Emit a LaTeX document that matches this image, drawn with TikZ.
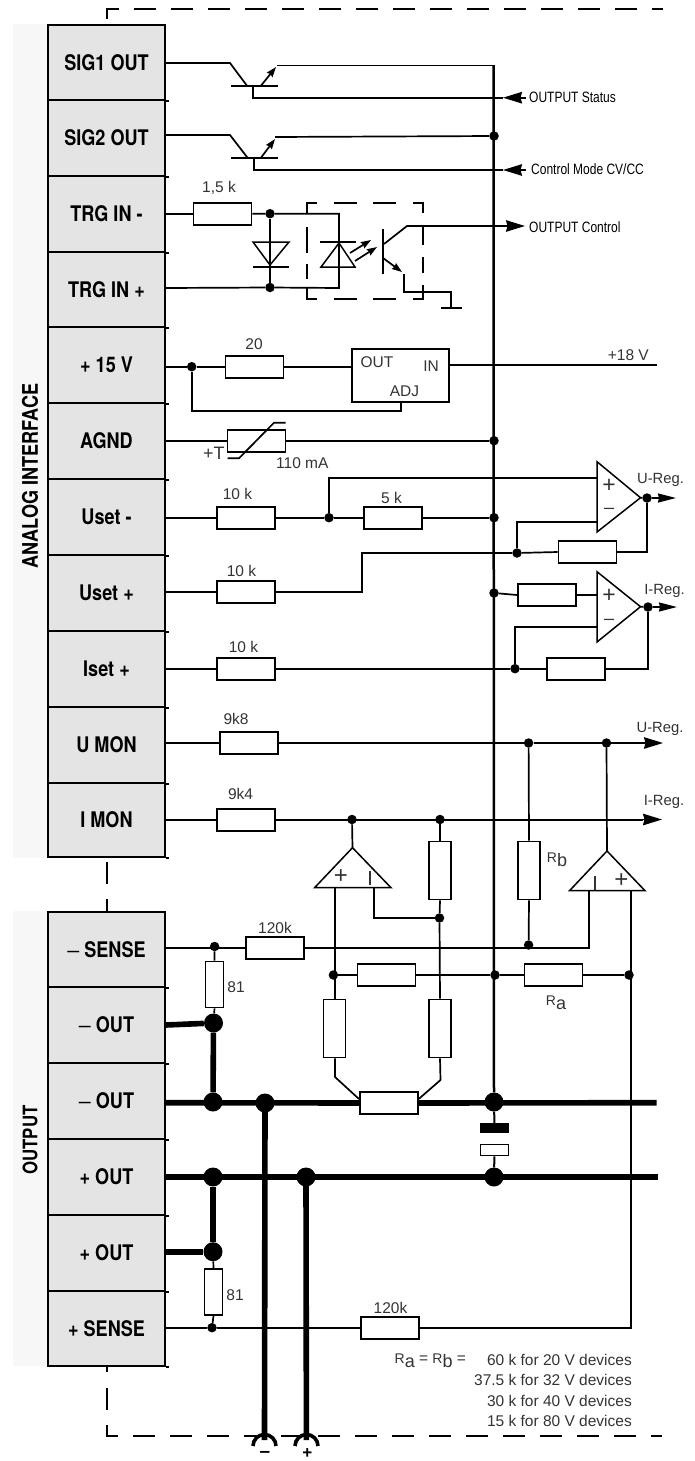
\documentclass[tikz,border=0pt]{standalone}
\usepackage{fontspec}
\setmainfont{Liberation Sans}
\newfontfamily\condb[FakeStretch=0.84]{TeX Gyre Heros Bold}
\newfontfamily\condr[FakeStretch=0.80]{Liberation Sans}
\newfontfamily\plainf{Liberation Sans}
\usetikzlibrary{arrows.meta,calc}
\definecolor{lbl}{HTML}{333333}
\newcommand{\subR}[1]{{\fontsize{14}{14}\selectfont R}\raisebox{-3.5pt}{\fontsize{18}{18}\selectfont #1}}
\newcommand{\thind}{{\plainf –}}
\tikzset{
 wire/.style={line width=1.7pt,black,line join=miter},
 bus/.style={line width=2.5pt,black},
 thick wire/.style={line width=5.6pt,black},
 dot/.style={circle,fill=black,inner sep=0pt,minimum size=9.5pt},
 bigdot/.style={circle,fill=black,inner sep=0pt,minimum size=19pt},
 resh/.style={draw=black,line width=1.7pt,fill=white,inner sep=0pt,minimum width=58pt,minimum height=22pt},
 resv/.style={draw=black,line width=1.7pt,fill=white,inner sep=0pt,minimum width=22pt,minimum height=58pt},
 ress/.style={draw=black,line width=1.7pt,fill=white,inner sep=0pt,minimum width=18pt,minimum height=46pt},
 pin/.style={draw=black,line width=1.8pt,fill=pinfill,inner sep=0pt,minimum width=117pt,font=\condb\fontsize{21.5}{21.5}\selectfont},
 txt/.style={inner sep=0pt,text=lbl,font=\fontsize{15.5}{16}\selectfont},
 small/.style={inner sep=0pt,text=black,font=\condr\fontsize{15}{15}\selectfont},
 reg lab/.style={inner sep=0pt,text=lbl,font=\fontsize{14.8}{15}\selectfont},
 side/.style={inner sep=0pt,rotate=90,font=\condb\fontsize{21.5}{21.5}\selectfont},
 bigarrow/.style={wire,-{Stealth[length=19pt,width=11.5pt,inset=1.5pt]}},
 tinyarrow/.style={wire,-{Stealth[length=10pt,width=7pt,inset=1pt]}},
 dashline/.style={line width=1.7pt,black,dash pattern=on 21.5pt off 15.5pt},
 amp/.style={line width=1.5pt,black,line join=miter},
}
\definecolor{pinfill}{HTML}{E4E4E4}
\definecolor{bandfill}{HTML}{F7F7F7}
\begin{document}
\begin{tikzpicture}[x=1pt,y=-1pt]
\useasboundingbox (0,0) rectangle (694,1461);
\fill[bandfill] (13,24) rectangle (48,858);
\fill[bandfill] (13,911) rectangle (48,1366);
% outer dashed frame
\coordinate (fTL) at (107,9);
\draw[dashline] (107,19) -- (fTL) -- (662.5,9);
\draw[dashline] (107,862) -- (107,912);
\draw[line width=1.7pt] (107,1366) -- (107,1372);
\coordinate (fBL) at (107,1436);
\draw[dashline] (107,1388) -- (fBL) -- (662,1436);
% pin strip
\foreach \n/\y/\h/\t in {
 sig1/62.5/75/SIG1 OUT, sig2/138/76/SIG2 OUT, trgm/214/76/TRG IN -, trgp/289.5/75/TRG IN +,
 vfif/365/76/+ 15 V, agnd/441/76/AGND, usm/517/76/Uset -, usp/593/76/Uset +,
 isp/669/76/Iset +, umon/745/76/U MON, imon/820/74/I MON,
 sense m/949.5/75/{\thind{} SENSE}, outm a/1025/76/{\thind{} OUT}, outm b/1101/76/{\thind{} OUT},
 outp a/1177/76/+ OUT, outp b/1253/76/+ OUT, sense p/1328.5/75/+ SENSE}
 {\node[pin,minimum height=\h pt] (\n) at (106.5,\y) {\t};
  \draw[wire] (\n.south east) -- ++(3,0);}
\node[side] (ai) at (30,476) {ANALOG INTERFACE};
\node[side,font=\condb\fontsize{20}{20}\selectfont] (ou) at (30,1140) {OUTPUT};
% pin contact points
\foreach \n/\p/\y in {pS1/sig1/63,pS2/sig2/135,pTm/trgm/213.7,pTp/trgp/288,pV/vfif/366.7,pA/agnd/440.7,
  pUm/usm/517.7,pUp/usp/592,pIs/isp/668.7,pUm2/umon/743,pIm/imon/820,pSm/sense m/947.7,
  pOa/outm a/1025,pOb/outm b/1102.7,pOc/outp a/1176.7,pOd/outp b/1251.7,pSp/sense p/1327.7}
 {\coordinate (\n) at (\p.east |- 0,\y);}
% resistors
\node[resh,minimum width=58pt] (r15) at (222.5,213.7) {};
\node[resh] (r20) at (254.5,366.7) {};
\node[resh] (rth) at (256.5,440.7) {};
\node[resh] (r10a) at (246,517.7) {};
\node[resh] (r5) at (393,517.7) {};
\node[resh] (r10b) at (246,592) {};
\node[resh] (r10c) at (246,668.7) {};
\node[resh] (r98) at (249,743) {};
\node[resh] (r94) at (246,820) {};
\node[resh] (rfu) at (587.5,552) {};
\node[resh] (rii) at (547,595) {};
\node[resh] (rfi) at (576,668.7) {};
\node[resh] (r120a) at (275,947.7) {};
\node[resh] (rm) at (386.5,975) {};
\node[resh] (ra) at (553.5,975) {};
\node[resh] (rc) at (389,1103) {};
\node[resh] (r120b) at (390,1327.7) {};
\node[resv] (rt) at (440,870.5) {};
\node[resv] (rb) at (529,870.5) {};
\node[resv] (rl) at (334.5,1028.5) {};
\node[resv] (rr) at (440,1028.5) {};
\node[ress] (r81a) at (214.5,984.5) {};
\node[ress] (r81b) at (213.5,1292) {};
% regulator
\node[draw=black,line width=1.7pt,inner sep=0pt,minimum width=97pt,minimum height=53pt] (reg) at (400.5,375.5) {};
% junction dots
\node[dot] (dT1) at (270,213.7) {};
\node[dot] (dT2) at (270,287.5) {};
\node[dot] (dV) at (191.7,366.7) {};
\node[dot] (dA) at (494,440.7) {};
\node[dot] (dUa) at (329,517.7) {};
\node[dot] (dUb) at (494,517.7) {};
\node[dot] (dS2) at (494,136) {};
\node[dot] (dFu) at (517,553) {};
\node[dot] (dOu) at (647,498) {};
\node[dot] (dIb) at (494,593) {};
\node[dot] (dFi) at (515,668.7) {};
\node[dot] (dOi) at (648,607) {};
\node[dot] (dM1) at (528.6,743) {};
\node[dot] (dM2) at (606.5,743) {};
\node[dot] (dI1) at (352,819.5) {};
\node[dot] (dI2) at (440,819.5) {};
\node[dot] (dN) at (439.5,918) {};
\node[dot] (dSm) at (214.6,946.5) {};
\node[dot] (dSb) at (528.6,945) {};
\node[dot] (dRl) at (333.4,975) {};
\node[dot] (dRm) at (495,975) {};
\node[dot] (dRr) at (629,975) {};
\node[dot] (dSp) at (212,1327.7) {};
\node[bigdot] (bA) at (213.5,1023) {};
\node[bigdot] (bB) at (213,1102) {};
\node[bigdot] (bC) at (265,1103) {};
\node[bigdot] (bD) at (494,1102) {};
\node[bigdot] (bE) at (213,1177) {};
\node[bigdot] (bF) at (306,1177) {};
\node[bigdot] (bG) at (494,1177) {};
\node[bigdot] (bH) at (213,1251.7) {};
% opamp corners
\coordinate (aT) at (597,461.7); \coordinate (aB) at (597,532); \coordinate (aO) at (640.5,497.7);
\coordinate (iT) at (597,571.7); \coordinate (iB) at (597,642); \coordinate (iO) at (640.5,606.7);
\coordinate (lA) at (352.5,847.7); \coordinate (lL) at (314.6,887.7); \coordinate (lR) at (391,887.7);
\coordinate (mA) at (607,851); \coordinate (mL) at (569.5,890.7); \coordinate (mR) at (645,890.7);
% arrow ends
\coordinate (aStat) at (503,97.7); \coordinate (aMode) at (503,170);
\coordinate (aCtl) at (525,226); \coordinate (aU) at (676,498); \coordinate (aI) at (677,607);
\coordinate (aUm) at (663,743); \coordinate (aIm) at (662,819.5);
\coordinate (eVin) at (656.6,365); \coordinate (eT1) at (656.6,1102.7); \coordinate (eT2) at (658,1176.7);
\coordinate (tm) at (264.5,1440); \coordinate (tp) at (306.4,1440);
% bus
\draw[bus] (493.5,65.5) -- (bD);
% transistor 1
\draw[wire] (pS1) -- (230,63) -- (247,85.7);
\draw[wire] (231,85.7) -- (278,85.7);
\draw[tinyarrow] (261,85.7) -- (276,67);
\draw[wire] (253,85.7) |- (aStat);
\draw[wire] (277,65.5) -- (494.7,65.5);
\draw[bigarrow] (526,97.7) -- (aStat);
% transistor 2
\draw[wire] (pS2) -- (230,135) -- (247.5,157.7);
\draw[wire] (231,157.7) -- (278,157.7);
\draw[tinyarrow] (261,157.7) -- (275,139);
\draw[wire] (254,157.7) |- (aMode);
\draw[wire] (275,137) -- (dS2);
\draw[bigarrow] (526,170) -- (aMode);
% TRG
\draw[wire] (pTm) -- (r15.west);
\draw[wire] (r15.east) -- (dT1) -- (339,213.7) -- (339,288) -- (dT2) -- (pTp);
\draw[wire] (dT1) -- (dT2);
\draw[amp] (253,242) -- (289,242) -- (270,265) -- cycle;
\draw[wire] (253,267) -- (289,267);
\draw[wire] (320,242) -- (356,242);
\draw[amp] (321,267) -- (355,267) -- (339,243) -- cycle;
\draw[tinyarrow] (350,253) -- (371,240);
\draw[tinyarrow] (355,261) -- (377,247);
\draw[wire,line width=1.9pt] (383,229) -- (383,274);
\draw[wire] (384,244) -- (407,226) -- (505,226);
\draw[bigarrow] (505,226) -- (aCtl);
\draw[tinyarrow] (383,258) -- (402,272);
\draw[wire] (404,274) |- (451,292) -- (451,308);
\draw[wire] (441,308) -- (462,308);
\draw[line width=1.7pt] (317,203) -- (307,203) -- (307,214) (307,227) -- (307,253) (307,264) -- (307,279) (307,288) -- (307,299) -- (317,299)
 (334,203) -- (357,203) (373,203) -- (396,203) (413,203) -- (423,203) -- (423,213)
 (423,226) -- (423,245) (423,257) -- (423,273) (423,285)-- (423,299) -- (413,299)
 (334,299) -- (357,299) (373,299) -- (396,299);
% +15 V
\draw[wire] (pV) -- (dV) -- (r20.west);
\draw[wire] (r20.east) -- (reg.west |- r20);
\draw[wire] (dV) |- (401,410.7) -- (401,402);
\draw[wire] (449,365) -- (eVin);
\node[txt] (tOut) at (377,362) {OUT};
\node[txt] (tIn) at (431,366) {IN};
\node[txt] (tAdj) at (404.5,391) {ADJ};
\node[txt,anchor=east] (t18) at (649,355) {+18 V};
% AGND
\draw[wire] (pA) -- (rth.west);
\draw[wire] (rth.east) -- (dA);
\draw[wire] (227.5,458.3) -- (239,458.3) -- (274,422.7) -- (285.6,422.7);
\node[txt,anchor=west,font=\fontsize{18}{18}\selectfont] (tT) at (203,453) {+T};
\node[txt,anchor=west] (t110) at (276,463) {110 mA};
% Uset-
\draw[wire] (pUm) -- (r10a.west);
\draw[wire] (r10a.east) -- (dUa) -- (r5.west);
\draw[wire] (r5.east) -- (dUb);
\draw[wire] (dUa) |- (aT |- 0,477.7);
% opamp U
\draw[amp] (aT) -- (aO) -- (aB) -- cycle;
\node[txt,font=\fontsize{23}{23}\selectfont] (tp1) at (609,486) {+};
\node[txt,font=\fontsize{18}{18}\selectfont] (tm1) at (609,511) {\textendash};
\draw[wire] (dFu) |- (aB |- 0,521.7);
\draw[wire] (pUp) -- (r10b.west);
\draw[wire] (r10b.east) -- (362,592) |- (dFu);
\draw[wire] (dFu) -- (rfu.west);
\draw[wire] (rfu.east) -| (dOu);
\draw[wire] (aO) -- (dOu);
\draw[wire,-{Stealth[length=18pt,width=9pt,inset=1pt]}] (dOu) -- (aU);
\node[reg lab] (tUr) at (660.5,480) {U-Reg.};
% opamp I
\draw[amp] (iT) -- (iO) -- (iB) -- cycle;
\node[txt,font=\fontsize{23}{23}\selectfont] (tp2) at (609,596) {+};
\node[txt,font=\fontsize{18}{18}\selectfont] (tm2) at (609,622) {\textendash};
\draw[wire] (dIb) -- (rii.west |- 0,595) (rii.east) -- (iT |- 0,595);
\draw[wire] (dFi) |- (iB |- 0,626.7);
\draw[wire] (pIs) -- (r10c.west);
\draw[wire] (r10c.east) -- (dFi) -- (rfi.west);
\draw[wire] (rfi.east) -| (dOi);
\draw[wire] (iO) -- (dOi);
\draw[wire,-{Stealth[length=18pt,width=9pt,inset=1pt]}] (dOi) -- (aI);
\node[reg lab] (tIr) at (664.5,591) {I-Reg.};
% U MON
\draw[wire] (pUm2) -- (r98.west);
\draw[wire] (r98.east) -- (dM1) -- (dM2) -- (643,743);
\draw[bigarrow] (643,743) -- (aUm);
\node[reg lab] (tUr2) at (660,729) {U-Reg.};
% I MON
\draw[wire] (pIm) -- (r94.west);
\draw[wire] (r94.east) -- (dI1 |- r94) -- (dI2 |- r94) -- (643,820);
\draw[bigarrow] (643,819.5) -- (aIm);
\node[reg lab] (tIr2) at (664,802) {I-Reg.};
% lower left amp
\draw[amp] (lA) -- (lR) -- (lL) -- cycle;
\draw[wire] (dI1) -- (lA);
\node[txt,font=\fontsize{24}{24}\selectfont] (tp3) at (341,877) {+};
\draw[line width=1.2pt,lbl] (370,871) -- (370,885);
\draw[wire] (335,887.7) -- (rl.north -| 335,0);
\draw[wire] (374.3,887.7) |- (dN);
\draw[wire] (dI2) -- (rt.north);
\draw[wire] (rt.south) -- (dN) -- (rr.north);
\draw[wire] (rl.south -| 335,0) -- (335,1077) -- (359,1099);
\draw[wire] (rr.south) -- (440.5,1080) -- (418.7,1099);
% lower right amp
\draw[amp] (mA) -- (mR) -- (mL) -- cycle;
\draw[wire] (dM2) -- (mA);
\draw[line width=1.2pt,lbl] (595,876) -- (595,890);
\node[txt,font=\fontsize{24}{24}\selectfont] (tp4) at (621.4,881) {+};
\draw[wire] (dM1) -- (rb.north);
\draw[wire] (rb.south) -- (dSb);
% sense
\draw[wire] (pSm) -- (dSm |- pSm) -- (r120a.west);
\draw[wire] (r120a.east) -- (589,947.7) -- (589,890.7);
\draw[wire] (dSm) -- (r81a.north);
\draw[wire] (r81a.south) -- (bA);
% Ra row
\draw[wire] (dRl) -- (rm.west);
\draw[wire] (rm.east) -- (dRm) -- (ra.west);
\draw[wire] (ra.east) -- (dRr);
\draw[wire] (631,890.7) -- (631,1327.7) -- (r120b.east);
\draw[wire] (r120b.west) -- (dSp) -- (pSp);
\draw[wire] (r81b.north) -- (bH);
\draw[wire] (r81b.south) -- (dSp);
% thick
\draw[thick wire] (pOa) -- (bA);
\draw[thick wire] (bA) -- (bB);
\draw[thick wire] (pOb) -- (rc.west);
\draw[thick wire] (rc.east) -- (eT1);
\draw[thick wire] (pOc) -- (eT2);
\draw[thick wire] (bE) -- (bH);
\draw[thick wire] (pOd) -- (bH);
\draw[thick wire] (bC.center) -- (tm);
\draw[thick wire] (bF.center) -- (tp);
% terminals
\draw[line width=3.6pt] (253,1446) arc[start angle=180,end angle=360,radius=11.5];
\draw[line width=3.6pt] (295,1446) arc[start angle=180,end angle=360,radius=11.5];
\node[inner sep=0pt,font=\bfseries\fontsize{19}{12}\selectfont] (tmi) at (264.8,1454) {\textendash};
\node[inner sep=0pt,font=\bfseries\fontsize{17}{12}\selectfont] (tpl) at (307.4,1453) {+};
% capacitor
\node[fill=black,inner sep=0pt,minimum width=29pt,minimum height=10pt] (cT) at (494.5,1128) {};
\node[draw=black,line width=1.7pt,fill=white,inner sep=0pt,minimum width=28pt,minimum height=11pt] (cB) at (494.5,1150) {};
\draw[bus,line width=2pt] (bD) -- (cT);
\draw[bus,line width=2pt] (cB) -- (bG);
% value labels
\node[txt] (v15) at (219,188) {1,5 k};
\node[txt] (v20) at (254,344) {20};
\node[txt] (v10a) at (237.5,494) {10 k};
\node[txt] (v5) at (391.5,498) {5 k};
\node[txt] (v10b) at (241.5,571) {10 k};
\node[txt] (v10c) at (243.5,647) {10 k};
\node[txt] (v98) at (236,719) {9k8};
\node[txt] (v94) at (240.5,794) {9k4};
\node[txt] (v120a) at (275,928) {120k};
\node[txt] (v81a) at (236,987) {81};
\node[txt] (v81b) at (235,1295) {81};
\node[txt] (v120b) at (390.5,1308) {120k};
\node[txt] (vRb) at (557,860) {\subR{b}};
\node[txt] (vRa) at (556,1003) {\subR{a}};
\node[small,anchor=west] (sStat) at (529,97.5) {OUTPUT Status};
\node[small,anchor=west] (sMode) at (531,169) {Control Mode CV/CC};
\node[small,anchor=west] (sCtl) at (529,227) {OUTPUT Control};
\node[txt,anchor=west] (fR) at (394.5,1361) {\subR{a} = \subR{b} =};
\node[txt,anchor=east] (f1) at (632,1360) {60 k for 20 V devices};
\node[txt,anchor=east] (f2) at (632,1380) {37.5 k for 32 V devices};
\node[txt,anchor=east] (f3) at (632,1401) {30 k for 40 V devices};
\node[txt,anchor=east] (f4) at (632,1421) {15 k for 80 V devices};
\end{tikzpicture}
\end{document}
